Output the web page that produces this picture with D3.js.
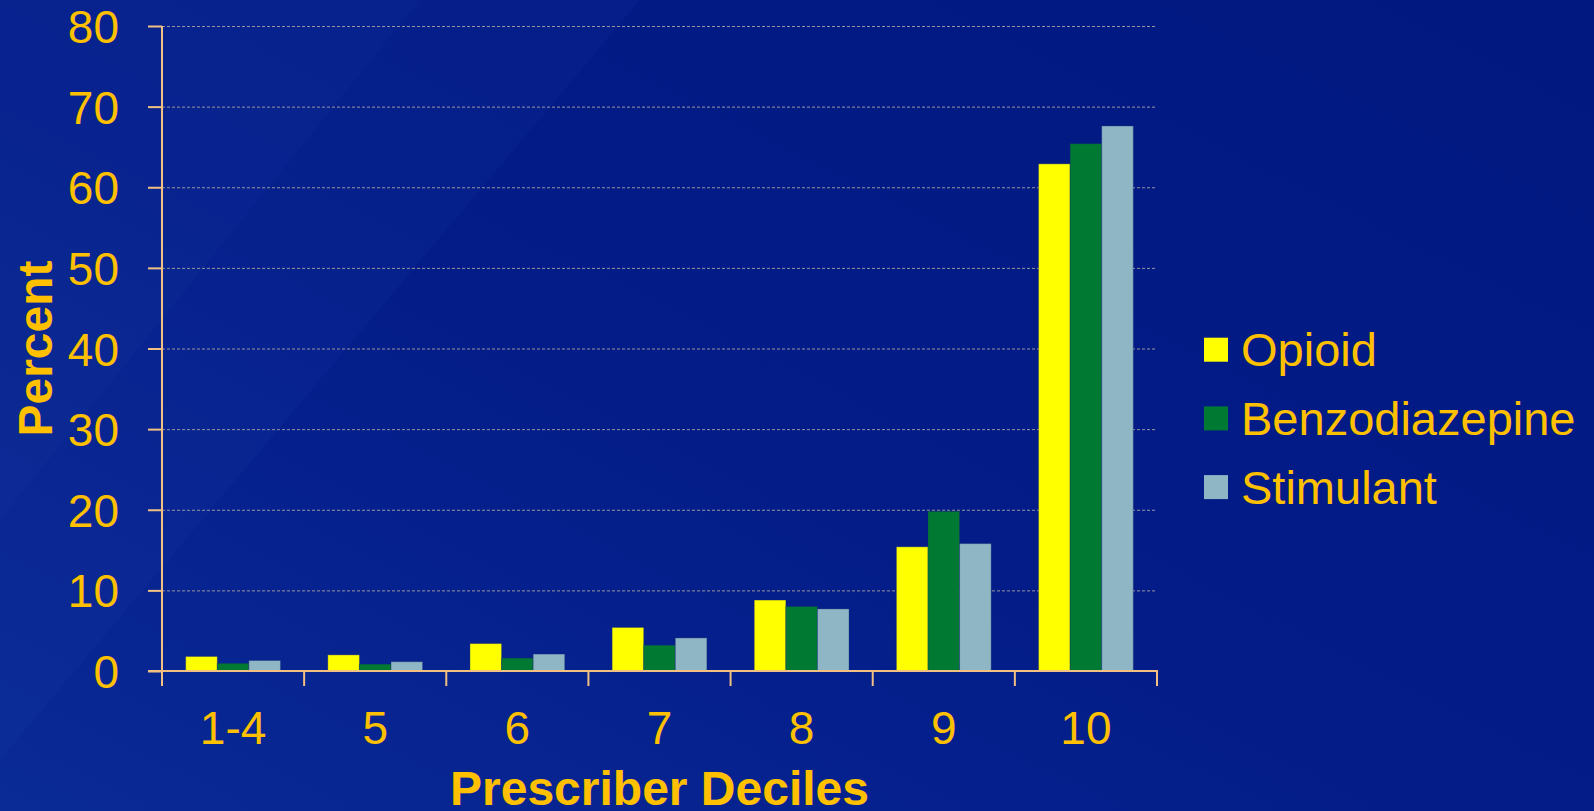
<!DOCTYPE html>
<html>
<head>
<meta charset="utf-8">
<script src="https://cdn.jsdelivr.net/npm/d3@7"></script>
<style>
  body { margin: 0; background: #011880; overflow: hidden; }
  text { font-family: "Liberation Sans", Arial, sans-serif; fill: #FFC000; }
</style>
</head>
<body>
<script>
// categories and series
const deciles = ["1-4", "5", "6", "7", "8", "9", "10"];
const seriesNames = ["Opioid", "Benzodiazepine", "Stimulant"];
const opioid = [1.8, 2.0, 3.4, 5.4, 8.8, 15.4, 62.9];
const benzodiazepine = [0.95, 0.85, 1.6, 3.2, 8.0, 19.8, 65.4];
const stimulant = [1.3, 1.15, 2.1, 4.1, 7.7, 15.8, 67.6];
const yTicks = [0, 10, 20, 30, 40, 50, 60, 70, 80];
const colors = ["#FFFF00", "#007A33", "#8FB6C4"];

const values = [opioid, benzodiazepine, stimulant];

const W = 1594, H = 811;
const plotL = 162, plotR = 1157, plotT = 26, plotB = 671;

const svg = d3.select("body").append("svg")
	.attr("width", W)
	.attr("height", H);

// background
const defs = svg.append("defs");
const grad = defs.append("linearGradient")
	.attr("id", "bg").attr("x1", "0").attr("y1", "1").attr("x2", "1").attr("y2", "0");
grad.append("stop").attr("offset", "0").attr("stop-color", "#0A2A96");
grad.append("stop").attr("offset", "0.45").attr("stop-color", "#031C88");
grad.append("stop").attr("offset", "1").attr("stop-color", "#011880");
svg.append("rect").attr("width", W).attr("height", H).attr("fill", "url(#bg)");
svg.append("path")
	.attr("d", "M0,0 L640,0 L0,760 Z")
	.attr("fill", "#2040B0").attr("opacity", 0.12);
svg.append("path")
	.attr("d", "M0,0 L420,0 L0,520 Z")
	.attr("fill", "#2848B8").attr("opacity", 0.08);

const x = d3.scaleBand()
	.domain(deciles)
	.range([plotL, plotR])
	.paddingInner(1 / 3)
	.paddingOuter(1 / 6);

const xs = d3.scaleBand()
	.domain(seriesNames)
	.range([0, x.bandwidth()]);

const y = d3.scaleLinear()
	.domain([0, 80])
	.range([plotB, plotT]);

// gridlines
svg.append("g")
	.selectAll("line")
	.data(yTicks.filter(d => d > 0))
	.join("line")
		.attr("x1", plotL).attr("x2", plotR)
		.attr("y1", d => y(d) + 0.5).attr("y2", d => y(d) + 0.5)
		.attr("stroke", "#9A96A0")
		.attr("stroke-width", 1)
		.attr("stroke-dasharray", "3,2");

// bars
const groups = svg.append("g")
	.selectAll("g")
	.data(deciles)
	.join("g")
		.attr("transform", d => "translate(" + x(d) + ",0)");

groups.selectAll("rect")
	.data((d, i) => seriesNames.map((s, j) => ({s: s, v: values[j][i], c: colors[j]})))
	.join("rect")
		.attr("x", d => xs(d.s))
		.attr("width", xs.bandwidth())
		.attr("y", d => y(d.v))
		.attr("height", d => y(0) - y(d.v))
		.attr("fill", d => d.c)
		.attr("stroke", "#1a2a70")
		.attr("stroke-opacity", 0.35)
		.attr("stroke-width", 1);

// y axis
const axisColor = "#F2C080";
const yAxis = svg.append("g")
	.attr("transform", "translate(" + plotL + ",0)")
	.call(d3.axisLeft(y).tickValues(yTicks).tickSize(14).tickPadding(29));
yAxis.select(".domain").attr("stroke", axisColor).attr("stroke-width", 2)
	.attr("d", "M0," + plotT + "V" + plotB);
yAxis.selectAll(".tick line").attr("stroke", axisColor).attr("stroke-width", 2);
yAxis.selectAll(".tick text")
	.attr("font-size", 46)
	.attr("fill", "#FFC000")
	.attr("dy", "0.36em")
	.style("font-family", "'Liberation Sans', Arial, sans-serif");

// x axis
const step = x.step();
const xBounds = d3.range(deciles.length + 1).map(i => plotL + i * step);
svg.append("line")
	.attr("x1", plotL - 14).attr("x2", plotR + 1)
	.attr("y1", plotB).attr("y2", plotB)
	.attr("stroke", axisColor).attr("stroke-width", 2);
svg.append("g")
	.selectAll("line")
	.data(xBounds)
	.join("line")
		.attr("x1", d => d).attr("x2", d => d)
		.attr("y1", plotB).attr("y2", plotB + 15)
		.attr("stroke", axisColor).attr("stroke-width", 2);
svg.append("g")
	.selectAll("text")
	.data(deciles)
	.join("text")
		.attr("x", d => x(d) + x.bandwidth() / 2)
		.attr("y", 744)
		.attr("text-anchor", "middle")
		.attr("font-size", 46)
		.text(d => d);

// axis titles
svg.append("text")
	.attr("x", (plotL + plotR) / 2)
	.attr("y", 805)
	.attr("text-anchor", "middle")
	.attr("font-size", 48)
	.attr("font-weight", "bold")
	.text("Prescriber Deciles");

svg.append("text")
	.attr("transform", "translate(52," + ((plotT + plotB) / 2) + ") rotate(-90)")
	.attr("text-anchor", "middle")
	.attr("font-size", 48)
	.attr("font-weight", "bold")
	.text("Percent");

// legend
const legend = svg.append("g")
	.selectAll("g")
	.data(seriesNames)
	.join("g")
		.attr("transform", (d, i) => "translate(1204," + (337.7 + i * 68.7) + ")");
legend.append("rect")
	.attr("width", 24).attr("height", 24)
	.attr("fill", (d, i) => colors[i]);
legend.append("text")
	.attr("x", 37)
	.attr("y", 28.5)
	.attr("font-size", 47)
	.text(d => d);
</script>
</body>
</html>
